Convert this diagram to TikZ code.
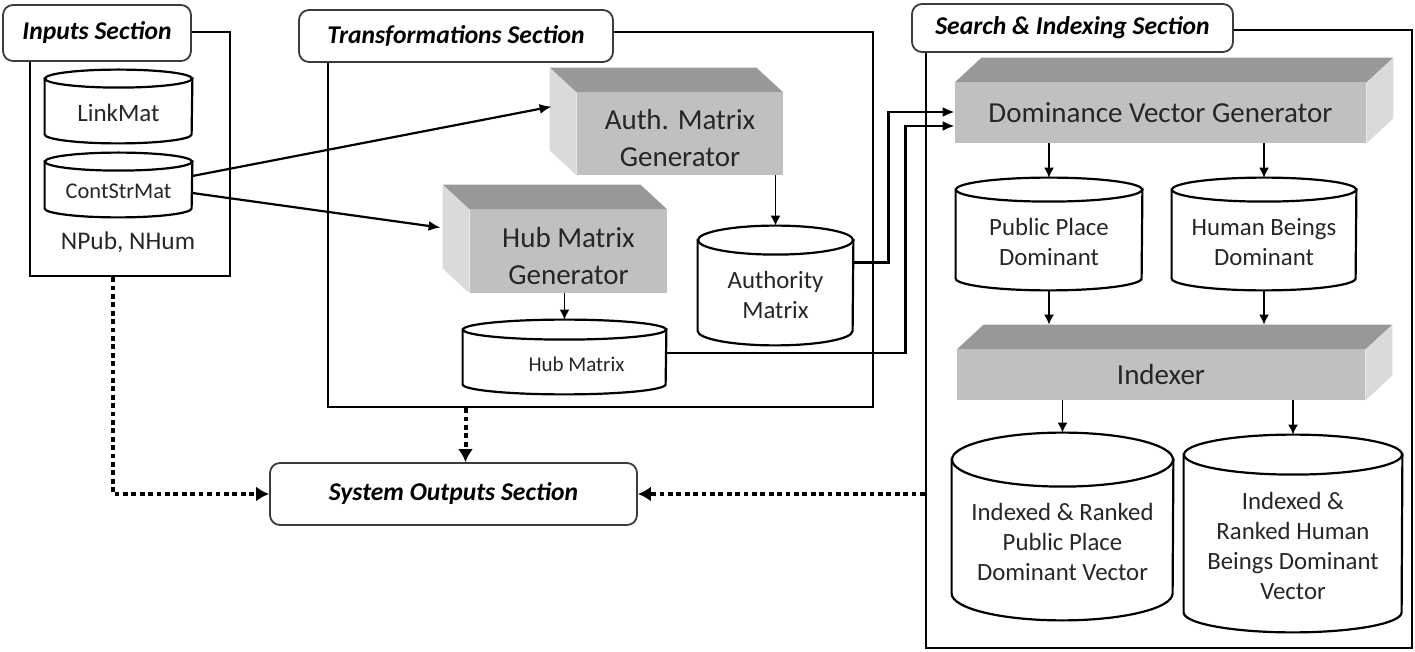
\documentclass[tikz,border=0pt]{standalone}
\usepackage{fontspec}
\setmainfont{Carlito}
\usetikzlibrary{shapes.geometric,arrows.meta,positioning,fit}

\definecolor{topgray}{RGB}{152,152,152}
\definecolor{frontgray}{RGB}{192,192,192}
\definecolor{sidegray}{RGB}{218,218,218}
\definecolor{inkgray}{RGB}{38,38,38}
\definecolor{edgegray}{RGB}{60,60,60}

\tikzset{
  frame/.style={draw, line width=1.3pt, inner sep=0pt},
  title/.style={draw=edgegray, fill=white, line width=0.9pt, rounded corners=5pt, inner sep=0pt,
    font=\fontsize{12.8}{15}\selectfont\bfseries\itshape},
  front/.style={fill=frontgray, inner sep=0pt, align=center, text=inkgray,
    font=\fontsize{14.5}{18.5}\selectfont},
  fronttext/.style={align=center, text=inkgray, font=\fontsize{14.5}{18.5}\selectfont},
  store/.style={inner sep=0pt},
  storeline/.style={draw, fill=white, line width=1.1pt},
  storetext/.style={align=center, text=inkgray, font=\fontsize{12.4}{15}\selectfont},
  plain/.style={text=inkgray, font=\fontsize{12.7}{15}\selectfont},
  wire/.style={line width=1.1pt, -{Latex[length=6pt,width=5pt]}},
  thin wire/.style={line width=0.75pt, -{Latex[length=5pt,width=5pt]}},
  dots/.style={line width=2pt, dash pattern=on 2.4pt off 1.8pt, -{Latex[length=6.5pt,width=7.5pt]}}
}

% data store: text options, name, centre, width, height, cap radius, text (sizes in px)
\newcommand{\DataStore}[7][]{%
  \node[store, minimum width=#4*0.5pt, minimum height=#5*0.5pt] (#2) at (#3) {};
  \path[storeline] ([shift={(0,#6)}]#2.north west) -- ([shift={(0,-#6)}]#2.south west)
    arc[start angle=180, end angle=360, x radius=#4*0.25pt, y radius=#6*0.5pt]
    -- ([shift={(0,#6)}]#2.north east) -- cycle;
  \path[storeline] ([shift={(0,#6)}]#2.north) ellipse [x radius=#4*0.25pt, y radius=#6*0.5pt];
  \node[storetext, #1] (#2-text) at ([shift={(0,#6/2+2)}]#2.center) {#7};}
% shaded faces of a block, depth to the upper left / upper right
\newcommand{\BlockLeft}[1]{%
  \fill[topgray] (#1.north west) -- ++(-27,-25) -- ([shift={(-27,-25)}]#1.north east) -- (#1.north east) -- cycle;
  \fill[sidegray] (#1.north west) -- ++(-27,-25) -- ([shift={(-27,-25)}]#1.south west) -- (#1.south west) -- cycle;}
\newcommand{\BlockRight}[1]{%
  \fill[topgray] (#1.north west) -- ++(27,-25) -- ([shift={(27,-25)}]#1.north east) -- (#1.north east) -- cycle;
  \fill[sidegray] (#1.north east) -- ++(27,-25) -- ([shift={(27,-25)}]#1.south east) -- (#1.south east) -- cycle;}

\begin{document}
\begin{tikzpicture}[x=0.5pt, y=-0.5pt]
\useasboundingbox (0,0) rectangle (1415,652);

% sections
\node[frame, fit={(30,32) (230,276)}] (infrm) {};
\node[frame, fit={(328,32) (873,407)}] (trfrm) {};
\node[frame, fit={(926,30) (1412,648)}] (srfrm) {};
\node[title, minimum width=94pt, minimum height=28pt] (intitle) at (97,33) {Inputs Section};
\node[title, minimum width=157pt, minimum height=26pt] (trtitle) at (456,36) {Transformations Section};
\node[title, minimum width=160.5pt, minimum height=24pt] (srtitle) at (1072.5,28) {Search \& Indexing Section};
\node[title, minimum width=183.5pt, minimum height=31pt] (outputs) at (453.5,494) {System Outputs Section};

% inputs
\DataStore[font=\fontsize{12.5}{15}\selectfont]{linkmat}{118.5,106.5}{147}{73}{9}{LinkMat}
\DataStore[font=\fontsize{11.2}{13}\selectfont]{contstr}{118.5,185}{147}{64}{9}{ContStrMat}
\node[plain] (counts) at (128,242) {NPub, NHum};

% transformations
\node[front, minimum width=103pt, minimum height=41pt] (authgen) at (680,134) {};
\node[fronttext] (authgen-text) at ([shift={(0,4)}]authgen.center) {Auth. Matrix\\Generator};
\node[front, minimum width=98.5pt, minimum height=41.5pt] (hubgen) at (568.5,251.5) {};
\node[fronttext] (hubgen-text) at ([shift={(0,5)}]hubgen.center) {Hub Matrix\\Generator};
\BlockLeft{authgen}
\BlockLeft{hubgen}
\DataStore{authstore}{775.5,285.5}{155}{119}{14.5}{Authority\\Matrix}
\DataStore[font=\fontsize{10.5}{13}\selectfont, xshift=6pt]{hubstore}{564.5,357}{203}{74}{10}{Hub Matrix}

% search and indexing
\node[front, minimum width=205.5pt, minimum height=30pt] (domgen) at (1160.5,113) {Dominance Vector Generator};
\node[front, minimum width=204pt, minimum height=25pt] (indexer) at (1161,375) {Indexer};
\BlockRight{domgen}
\BlockRight{indexer}
\DataStore{pubstore}{1049,234}{186}{112}{12}{Public Place\\Dominant}
\DataStore{humstore}{1264,234}{184}{112}{12}{Human Beings\\Dominant}
\DataStore{irpub}{1062.5,526.5}{221}{187}{27}{Indexed \& Ranked\\Public Place\\Dominant Vector}
\DataStore{irhum}{1293,533.5}{218}{197}{20}{Indexed \&\\Ranked Human\\Beings Dominant\\Vector}

% connectors
\draw[wire] ([shift={(0,-9)}]contstr.east) -- ([shift={(-25,14)}]authgen.north west);
\draw[wire] ([shift={(0,8)}]contstr.east) -- ([shift={(-29,18)}]hubgen.north west);
\draw[thin wire] (authgen.south -| authstore.north) -- (authstore.north);
\draw[thin wire] (hubgen.south -| hubstore.north) -- (hubstore.north);
\draw[wire] ([shift={(0,-23)}]authstore.east) -- ++(35,0) |- ([shift={(0,-1)}]domgen.west);
\draw[wire] ([shift={(0,-4)}]hubstore.east) -- ++(239,0) |- ([shift={(0,13)}]domgen.west);
\draw[thin wire] (domgen.south -| pubstore.north) -- (pubstore.north);
\draw[thin wire] (domgen.south -| humstore.north) -- (humstore.north);
\coordinate (idxtop) at ([shift={(0,-25)}]indexer.north);
\draw[thin wire] (pubstore.south) -- (pubstore.south |- idxtop);
\draw[thin wire] (humstore.south) -- (humstore.south |- idxtop);
\draw[thin wire] (indexer.south -| irpub.north) -- (irpub.north);
\draw[thin wire] (indexer.south -| irhum.north) -- (irhum.north);

% outputs
\coordinate (drop) at ([shift={(12,0)}]outputs.north);
\draw[dots] ([shift={(-17,0)}]infrm.south) |- (outputs.west);
\draw[dots] (drop |- trfrm.south) -- (drop);
\draw[dots] (outputs.east -| srfrm.west) -- (outputs.east);

\end{tikzpicture}
\end{document}
